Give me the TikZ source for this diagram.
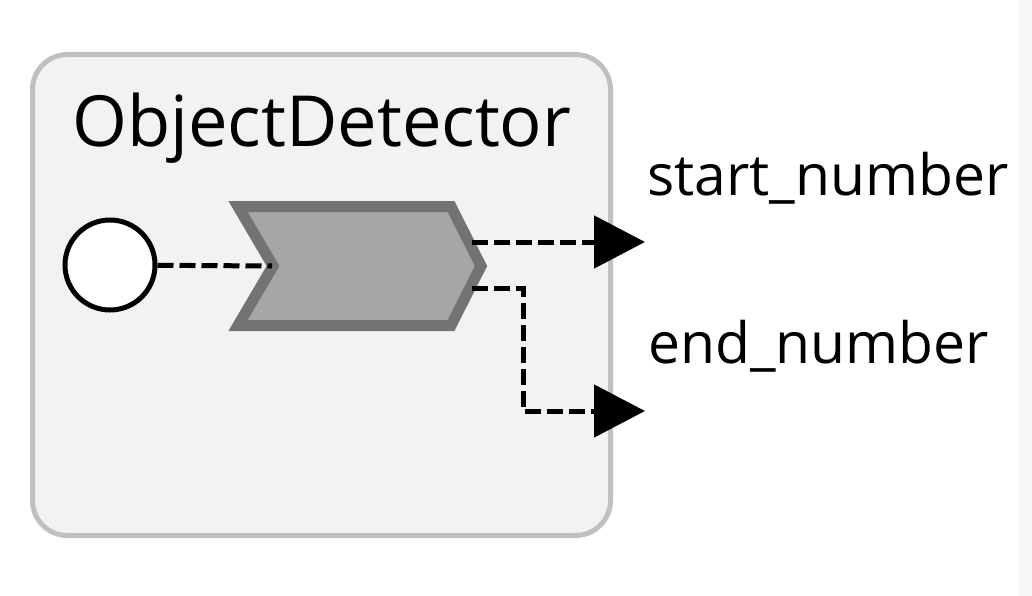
\documentclass[tikz,border=0pt]{standalone}
\usepackage{fontspec}
\setmainfont{Open Sans}
\usetikzlibrary{arrows.meta}
\definecolor{boxfill}{HTML}{F2F2F2}
\definecolor{boxline}{HTML}{C0C0C0}
\definecolor{chevfill}{HTML}{A6A6A6}
\definecolor{chevline}{HTML}{737373}
\definecolor{stripfill}{HTML}{F8F8F8}

\begin{document}
\begin{tikzpicture}[x=1pt,y=-1pt,
    dsh/.style={line width=5pt,dash pattern=on 16pt off 6pt},
    arr/.style={-{Triangle[length=51pt,width=52pt]}},
    lbl/.style={inner sep=0pt,anchor=base west,font=\fontsize{57}{68}\selectfont}]
  \useasboundingbox (0,0) rectangle (1032,596);
  \fill[stripfill] (1018,0) rectangle (1032,596);
  \node[draw=boxline,fill=boxfill,line width=5pt,rounded corners=35pt,outer sep=0pt,
    minimum width=578pt,minimum height=481pt,anchor=north west] (OD) at (32.5,54.5) {};
  \node[inner sep=0pt,anchor=base west,font=\fontsize{70.5}{82}\selectfont] (ODname) at (72,147) {ObjectDetector};
  \node[circle,draw,fill=white,line width=5pt,minimum size=90pt,inner sep=0pt] (In) at (110,265) {};
  %% the step itself
  \draw[fill=chevfill,draw=chevline,line width=11pt,line join=miter]
    (238,206.5) -- (451,206.5) -- (481,266) -- (451,325.5) -- (238,325.5) -- (273,266) -- cycle;
  \coordinate (Cin) at (272,266);
  \coordinate (Cout1) at (472,242);
  \coordinate (Cout2) at (472,288);
  \coordinate (Sout) at (645,242);
  \coordinate (Eout) at (645,411);
  \node[lbl] (Slbl) at (647,195) {start\_number};
  \node[lbl] (Elbl) at (648,363) {end\_number};
  \path[dsh] (In) edge (Cin);
  \path[dsh,arr] (Cout1) edge (Sout);
  \draw[dsh,arr] (Cout2) -- ++(51,0) |- (Eout);
\end{tikzpicture}
\end{document}
